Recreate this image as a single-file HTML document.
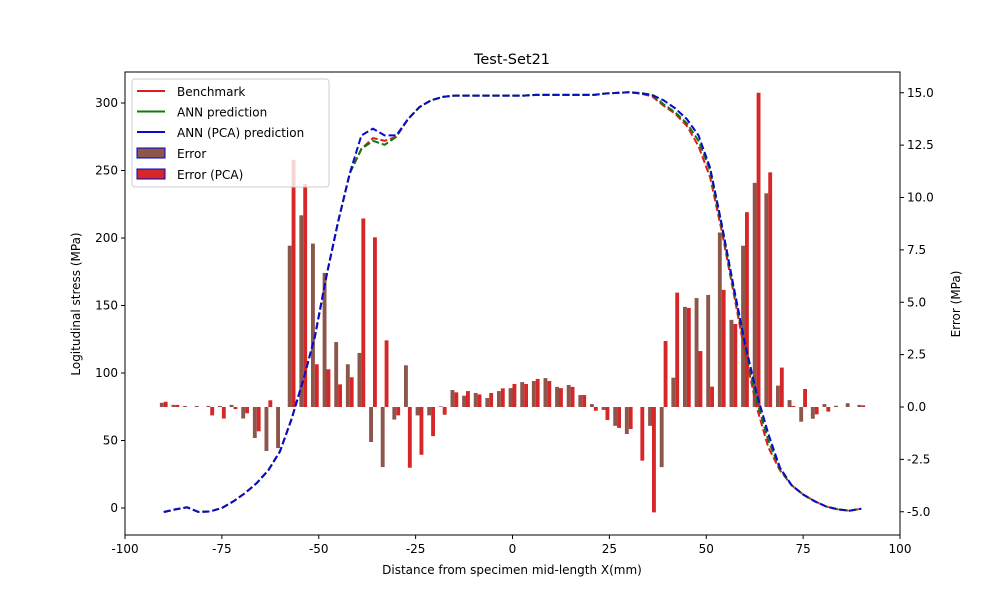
<!DOCTYPE html>
<html><head><meta charset="utf-8"><style>
body{margin:0;background:#fff;font-family:"Liberation Sans","DejaVu Sans",sans-serif}
svg text{font-family:"DejaVu Sans","Liberation Sans",sans-serif;font-size:12px;fill:#000}
</style></head><body>
<svg id="c" width="1000" height="600"></svg>
<script>
const xs=[-90,-87,-84,-81,-78,-75,-72,-69,-66,-63,-60,-57,-54,-51,-48,-45,-42,-39,-36,-33,-30,-27,-24,-21,-18,-15,-12,-9,-6,-3,0,3,6,9,12,15,18,21,24,27,30,33,36,39,42,45,48,51,54,57,60,63,66,69,72,75,78,81,84,87,90];
const bench=[-3,-1,0.5,-3,-2.5,0,5,11,18.5,28,42,66,95,127,172,212,248,266,274,272,275,288,297,302,304.5,305.5,305.5,305.5,305.5,305.5,305.5,305.5,306,306,306,306,306,306,307,307.5,308,307,305,298,292,283,268,245,205,160,115,75,45,28,17,10,5,1,-1,-2,-0.5];
const ann=[-3,-1,0.5,-3,-2.5,0,5,11,18.5,28,42,66,95,127,172,212,248,266,272,269,275,288,297,302,304.5,305.5,305.5,305.5,305.5,305.5,305.5,305.5,306,306,306,306,306,306,307,307.5,308,307.5,306,299,293,285,272,250,208,163,118,80,50,29,17,10,5,1,-1,-2,-0.5];
const pca=[-3,-1,0.5,-3,-2.5,0,5,11,18.5,28,42,66,95,127,172,212,248,276,281,276,276,288,297,302,304.5,305.5,305.5,305.5,305.5,305.5,305.5,305.5,306,306,306,306,306,306,307,307.5,308,307,306,302,296,288,276,252,210,165,122,85,55,30,17,10,5,1,-1,-2,-0.5];
const err=[0.2,0.1,0.05,0.05,0.05,0.05,0.1,-0.55,-1.48,-2.1,-1.96,7.7,9.15,7.8,6.4,3.1,2.04,2.58,-1.67,-2.87,-0.6,1.99,-0.4,-0.4,0.03,0.81,0.54,0.67,0.43,0.76,0.9,1.19,1.24,1.38,0.96,1.05,0.57,0.14,-0.14,-0.9,-1.29,0,-0.9,-2.87,1.4,4.78,5.2,5.35,8.33,4.16,7.7,10.7,10.2,1.02,0.33,-0.7,-0.56,0.14,0.06,0.18,0.1];
const errPca=[0.25,0.1,0,0,-0.4,-0.55,-0.1,-0.3,-1.16,0.32,0,11.8,10.65,2.04,1.8,1.08,1.42,9.0,8.1,3.18,-0.4,-2.9,-2.28,-1.39,-0.37,0.7,0.76,0.6,0.67,0.89,1.1,1.1,1.34,1.24,0.9,0.96,0.57,-0.18,-0.62,-1.0,-1.05,-2.56,-5.03,3.15,5.46,4.73,2.67,0.97,5.59,3.96,9.3,15.0,11.2,1.88,0.05,0.86,-0.35,-0.22,0,0,0.08];
const xTicks=[-100,-75,-50,-25,0,25,50,75,100];
const yTicks=[0,50,100,150,200,250,300];
const y2Ticks=[-5.0,-2.5,0.0,2.5,5.0,7.5,10.0,12.5,15.0];
const L=125,R=900,T=72,B=535;
const X=v=>L+(v+100)/200*(R-L);
const Y=v=>508-v*1.35;
const Y2=v=>407-v*20.95;
const svg=document.getElementById('c');
const NS='http://www.w3.org/2000/svg';
function mk(t,a,p){const e=document.createElementNS(NS,t);for(const k in a)e.setAttribute(k,a[k]);(p||svg).appendChild(e);return e;}
function tx(s,x,y,anc,extra){const e=mk('text',Object.assign({x:x,y:y,'text-anchor':anc||'middle'},extra||{}));e.textContent=s;return e;}
const bw=3.875*1.0;
err.forEach((v,i)=>{const x=X(xs[i]);const r=mk('rect',{x:x-bw,y:Math.min(Y2(v),Y2(0)),width:bw,height:Math.abs(Y2(v)-Y2(0)),fill:'#8c564b'});

});
errPca.forEach((v,i)=>{const x=X(xs[i]);const r=mk('rect',{x:x,y:Math.min(Y2(v),Y2(0)),width:bw,height:Math.abs(Y2(v)-Y2(0)),fill:'#d62728'});

});
function line(arr,col,name){const d=arr.map((v,i)=>(i?'L':'M')+X(xs[i]).toFixed(1)+','+Y(v).toFixed(1)).join('');const p=mk('path',{d:d,fill:'none',stroke:col,'stroke-width':2,'stroke-dasharray':'7,3'});

}
line(bench,'#e31a1c','benchmark-line');line(ann,'#117711','ann-line');line(pca,'#0a0acc','ann-pca-line');
mk('rect',{x:L,y:T,width:R-L,height:B-T,fill:'none',stroke:'#000','stroke-width':1,});
xTicks.forEach(v=>{mk('line',{x1:X(v),x2:X(v),y1:B,y2:B+4,stroke:'#000'});tx(String(v),X(v),B+18);});
yTicks.forEach(v=>{mk('line',{x1:L-4,x2:L,y1:Y(v),y2:Y(v),stroke:'#000'});tx(String(v),L-7,Y(v)+4,'end');});
y2Ticks.forEach(v=>{mk('line',{x1:R,x2:R+4,y1:Y2(v),y2:Y2(v),stroke:'#000'});tx(v.toFixed(1),R+7,Y2(v)+4,'start');});
tx('Test-Set21',512,64,'middle',{style:'font-size:14.5px',});
tx('Distance from specimen mid-length X(mm)',512,574,'middle',{});
tx('Logitudinal stress (MPa)',80,304,'middle',{transform:'rotate(-90 80 304)',});
tx('Error (MPa)',960,304,'middle',{transform:'rotate(-90 960 304)',});
const lg=mk('g',{});
mk('rect',{x:132,y:79,width:197,height:108,rx:3,fill:'#fff','fill-opacity':0.8,stroke:'#ccc'},lg);
[['Benchmark','#e31a1c'],['ANN prediction','#117711'],['ANN (PCA) prediction','#0a0acc']].forEach((e,i)=>{const y=91+i*20.5;mk('line',{x1:137,x2:165,y1:y,y2:y,stroke:e[1],'stroke-width':2},lg);tx(e[0],177,y+5,'start');});
[['Error','#8c564b'],['Error (PCA)','#d62728']].forEach((e,i)=>{const y=153+i*21;mk('rect',{x:137,y:y-5,width:28,height:10,fill:e[1],stroke:'#0000cc'},lg);tx(e[0],177,y+5,'start');});
</script>
</body></html>
